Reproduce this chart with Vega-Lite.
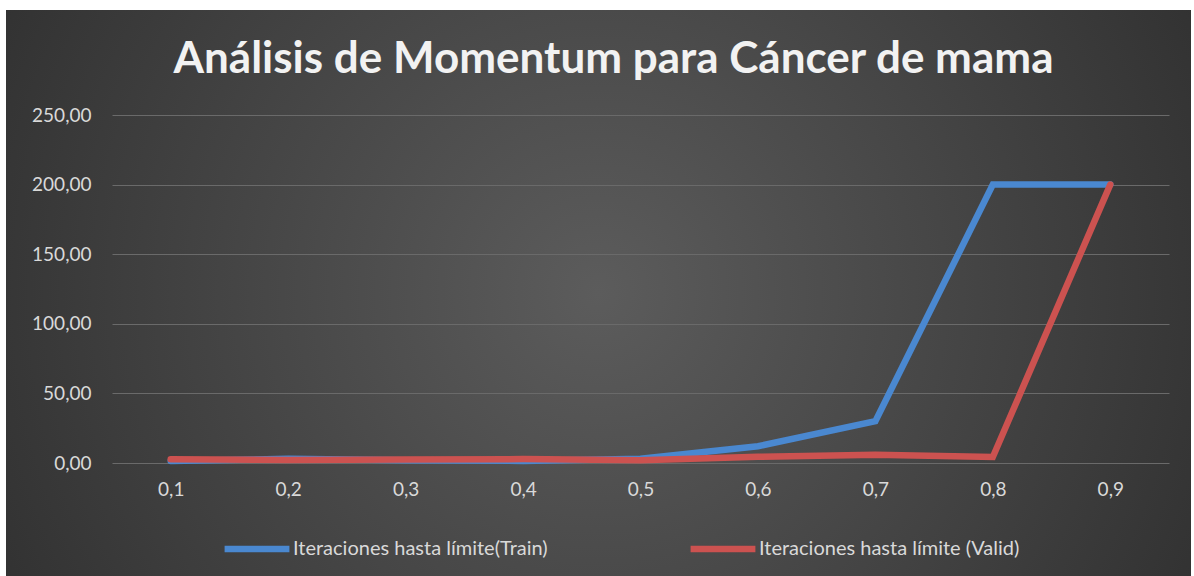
{
  "$schema": "https://vega.github.io/schema/vega-lite/v6.json",
  "autosize": {"type": "none"},
  "width": 1185,
  "height": 566,
  "padding": {"left": 6, "top": 10, "right": 3, "bottom": 0},
  "background": "#ffffff",
  "config": {
    "view": {
      "stroke": null,
      "fill": {
        "gradient": "radial",
        "x1": 0.5, "y1": 0.5, "r1": 0,
        "x2": 0.5, "y2": 0.5, "r2": 0.72,
        "stops": [
          {"offset": 0, "color": "#5c5c5c"},
          {"offset": 1, "color": "#262626"}
        ]
      }
    },
    "font": "Lato"
  },
  "title": {
    "text": "Análisis de Momentum para Cáncer de mama",
    "font": "Lato",
    "fontSize": 44,
    "fontWeight": "bold",
    "color": "#f2f2f2",
    "anchor": "middle",
    "frame": "group",
    "offset": -72,
    "dx": 15
  },
  "data": {
    "values": [
      {"m": "0,1", "serie": "Iteraciones hasta límite(Train)", "v": 1.5},
      {"m": "0,2", "serie": "Iteraciones hasta límite(Train)", "v": 3},
      {"m": "0,3", "serie": "Iteraciones hasta límite(Train)", "v": 2},
      {"m": "0,4", "serie": "Iteraciones hasta límite(Train)", "v": 1.5},
      {"m": "0,5", "serie": "Iteraciones hasta límite(Train)", "v": 3},
      {"m": "0,6", "serie": "Iteraciones hasta límite(Train)", "v": 12},
      {"m": "0,7", "serie": "Iteraciones hasta límite(Train)", "v": 30},
      {"m": "0,8", "serie": "Iteraciones hasta límite(Train)", "v": 200},
      {"m": "0,9", "serie": "Iteraciones hasta límite(Train)", "v": 200},
      {"m": "0,1", "serie": "Iteraciones hasta límite (Valid)", "v": 2.7},
      {"m": "0,2", "serie": "Iteraciones hasta límite (Valid)", "v": 2.2},
      {"m": "0,3", "serie": "Iteraciones hasta límite (Valid)", "v": 2.5},
      {"m": "0,4", "serie": "Iteraciones hasta límite (Valid)", "v": 2.8},
      {"m": "0,5", "serie": "Iteraciones hasta límite (Valid)", "v": 2},
      {"m": "0,6", "serie": "Iteraciones hasta límite (Valid)", "v": 4.5},
      {"m": "0,7", "serie": "Iteraciones hasta límite (Valid)", "v": 6},
      {"m": "0,8", "serie": "Iteraciones hasta límite (Valid)", "v": 4.3},
      {"m": "0,9", "serie": "Iteraciones hasta límite (Valid)", "v": 200}
    ]
  },
  "mark": {"type": "line", "strokeWidth": 6.5, "strokeCap": "round", "strokeJoin": "miter"},
  "encoding": {
    "x": {
      "field": "m",
      "type": "ordinal",
      "sort": null,
      "scale": {"type": "point", "padding": 0.5, "range": [106, 1163]},
      "axis": {
        "title": null,
        "labelAngle": 0,
        "domain": false,
        "ticks": false,
        "tickSize": 0,
        "grid": false,
        "offset": -113,
        "labelPadding": 17,
        "labelFontSize": 19,
        "labelColor": "#d9d9d9",
        "labelFont": "Lato"
      }
    },
    "y": {
      "field": "v",
      "type": "quantitative",
      "scale": {"domain": [0, 250], "range": [453, 105], "nice": false, "zero": true},
      "axis": {
        "title": null,
        "values": [0, 50, 100, 150, 200, 250],
        "labelExpr": "replace(format(datum.value, '.2f'), '.', ',')",
        "domain": false,
        "ticks": false,
        "tickSize": 0,
        "grid": true,
        "gridColor": "#6a6a6a",
        "gridWidth": 1,
        "offset": -107,
        "labelPadding": 22,
        "labelFontSize": 19,
        "labelColor": "#d9d9d9",
        "labelFont": "Lato"
      }
    },
    "color": {
      "field": "serie",
      "type": "nominal",
      "scale": {
        "domain": ["Iteraciones hasta límite(Train)", "Iteraciones hasta límite (Valid)"],
        "range": ["#4a88d0", "#cc5250"]
      },
      "legend": {
        "title": null,
        "orient": "none",
        "direction": "horizontal",
        "legendX": 215,
        "legendY": 503,
        "symbolType": "stroke",
        "symbolSize": 4200,
        "symbolStrokeWidth": 6.5,
        "labelFontSize": 20,
        "labelColor": "#d9d9d9",
        "labelFont": "Lato",
        "labelOffset": 0,
        "columnPadding": 129,
        "labelLimit": 400
      }
    }
  }
}
